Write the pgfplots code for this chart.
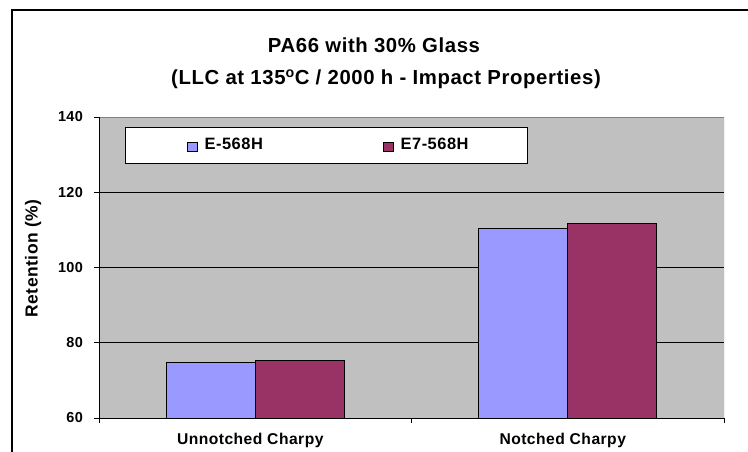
\documentclass[border=0pt]{standalone}
\usepackage{fontspec}
\setmainfont{Liberation Sans}[LetterSpace=3]
\usepackage{pgfplots}
\pgfplotsset{compat=1.18}
\definecolor{bgc}{HTML}{C0C0C0}
\definecolor{cA}{HTML}{9999FF}
\definecolor{cB}{HTML}{993366}
\definecolor{brd}{HTML}{808080}
\begin{document}
\begin{tikzpicture}
\useasboundingbox (0bp,0bp) rectangle (748bp,452bp);
\draw[line width=1.3bp] (12bp,-2bp) -- (12bp,442bp) -- (752bp,442bp);
\node[anchor=base, font=\fontsize{20.4}{23}\selectfont\bfseries] at (374bp,399.7bp) {PA66 with 30\% Glass};
\node[anchor=base, font=\fontsize{20.4}{23}\selectfont\bfseries] at (386bp,367bp) {(LLC at 135\textsuperscript{o}C / 2000 h - Impact Properties)};
\begin{axis}[
  at={(99bp,34bp)}, anchor=south west, scale only axis,
  width=625bp, height=301bp,
  ybar=0pt, bar width=89bp,
  xmin=-0.5, xmax=1.5, ymin=60, ymax=140,
  ytick={60,80,...,140},
  ymajorgrids, grid style={black, line width=0.8bp},
  axis background/.style={fill=bgc},
  axis line style={draw=none},
  tick pos=left, tick align=outside,
  major tick length=4.5bp,
  tick style={black, line width=0.8bp},
  xtick={-0.5,0.5,1.5}, xticklabels={},
  extra x ticks={0,1},
  extra x tick labels={Unnotched Charpy, Notched Charpy},
  extra x tick style={major tick length=0pt, xticklabel style={font=\fontsize{15.7}{18}\selectfont\bfseries, yshift=-12bp, xshift=-5bp}},
  /pgf/number format/assume math mode=true,
  yticklabel style={font=\fontsize{14.5}{16}\selectfont\bfseries, xshift=-8bp},
  ylabel={Retention (\%)},
  ylabel style={font=\fontsize{17.5}{20}\selectfont\bfseries, at={(axis description cs:-0.1056,0.53)}, anchor=center},
  legend columns=2,
  legend style={at={(axis description cs:0.0416,0.9668)}, anchor=north west,
    draw=black, line width=0.8bp, fill=white,
    inner xsep=62bp, inner ysep=9.85bp,
    font=\fontsize{16.5}{19}\selectfont\bfseries,
    nodes={inner sep=0pt, anchor=base west, text width=65bp, text height=12bp, text depth=4.3bp},
    /tikz/every odd column/.append style={column sep=7bp},
    /tikz/every even column/.append style={column sep=113.7bp}},
  every axis plot post/.append style={legend image code/.code={\draw[#1, draw=black, line width=0.8bp] (0bp,-1.7bp) rectangle (9.5bp,7.3bp);}},
]
\addplot[fill=cA, draw=black, line width=0.8bp] coordinates {(0,74.7) (1,110.3)};
\addplot[fill=cB, draw=black, line width=0.8bp] coordinates {(0,75.4) (1,111.6)};
\legend{\mbox{E-568H}, \mbox{E7-568H}}
\draw[brd, line width=1bp] (rel axis cs:0,1) -- (rel axis cs:1,1) -- (rel axis cs:1,0);
\draw[black, line width=1bp] (rel axis cs:0,1) -- (rel axis cs:0,0) -- (rel axis cs:1,0);
\end{axis}
\end{tikzpicture}
\end{document}
